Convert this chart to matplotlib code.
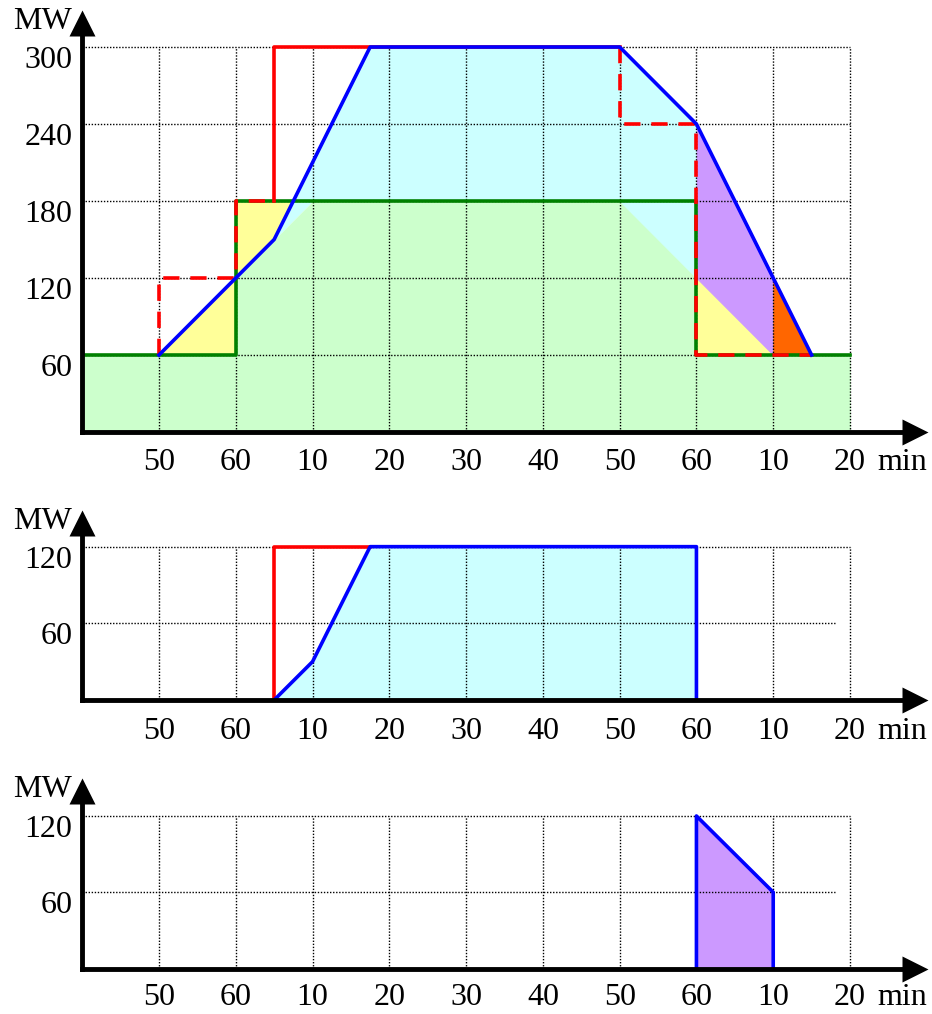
import numpy as np
import matplotlib
matplotlib.use("Agg")
import matplotlib.pyplot as plt
from matplotlib.path import Path
from matplotlib import transforms

# ---- data -----------------------------------------------------------------
# time in minutes; labels show the clock minute
tick_pos = [10, 20, 30, 40, 50, 60, 70, 80, 90, 100]
tick_labels = ["50", "60", "10", "20", "30", "40", "50", "60", "10", "20"]

# top panel: schedule (step), ramp-limited schedule, total output, dispatch order
sched_t = [0, 20, 20, 80, 80, 100]
sched_p = [60, 60, 180, 180, 60, 60]
ramp_t = [0, 10, 30, 70, 90, 100]
ramp_p = [60, 60, 180, 180, 60, 60]
total_t = [10, 25, 37.5, 70, 80, 90, 95]
total_p = [60, 150, 300, 300, 240, 120, 60]
order_t = [10, 10, 20, 20, 25, 25, 70, 70, 80, 80, 95]
order_p = [60, 120, 120, 180, 180, 300, 300, 240, 240, 60, 60]
yticks_top = [60, 120, 180, 240, 300]

# middle panel: upward regulation
up_t = [25, 30, 37.5, 80, 80]
up_p = [0, 30, 120, 120, 0]
up_order_t = [25, 25, 37.5]
up_order_p = [0, 120, 120]
yticks_small = [60, 120]

# bottom panel: downward regulation
down_t = [80, 80, 90, 90]
down_p = [0, 120, 60, 0]

# ---- style ----------------------------------------------------------------
GREEN_FILL = "#CCFFCC"
CYAN_FILL = "#CCFFFF"
YELLOW_FILL = "#FFFF99"
PURPLE_FILL = "#CC99FF"
ORANGE_FILL = "#FF6600"
GREEN = "#008000"
BLUE = "#0000FF"
RED = "#FF0000"

FONT = dict(family="Liberation Serif", size=23, color="black")
LW = 2.6
AXIS_LW = 3.5
DOT = dict(color="black", lw=1.0, linestyle=(0, (1, 1.2)), zorder=2)
DASH = (0, (4.5, 3))

W, H, DPI = 932, 1014, 100
PX_PER_MIN = 7.678
X0_PX = 82.2
XMAX = 110.5
X_TIP = 110.2
HEAD_PX = 26

HEAD_UP = Path([(0, 0), (-0.5, -1), (0.5, -1), (0, 0)],
               [Path.MOVETO, Path.LINETO, Path.LINETO, Path.CLOSEPOLY])
HEAD_RIGHT = Path([(0, 0), (-1, 0.5), (-1, -0.5), (0, 0)],
                  [Path.MOVETO, Path.LINETO, Path.LINETO, Path.CLOSEPOLY])

fig = plt.figure(figsize=(W / DPI, H / DPI), dpi=DPI)


def make_axes(y0_px, px_per_mw, ymax):
    ax = fig.add_axes([X0_PX / W, 1 - y0_px / H,
                       XMAX * PX_PER_MIN / W, ymax * px_per_mw / H])
    ax.set_xlim(0, XMAX)
    ax.set_ylim(0, ymax)
    ax.axis("off")
    return ax


def shifted(ax, dx, dy):
    return transforms.offset_copy(ax.transData, fig=fig, x=dx, y=dy, units="dots")


def draw_frame(ax, y_tip, px_per_mw, yticks, ytop, hgrid_end, label_drop):
    # dotted grid
    for t in tick_pos:
        ax.plot([t, t], [0, ytop], **DOT)
    for v, end in zip(yticks, hgrid_end):
        ax.plot([0, end], [v, v], **DOT)
    # arrows
    half = 0.5 * HEAD_PX
    ax.plot([0, 0], [0, y_tip - half / px_per_mw], color="black", lw=AXIS_LW,
            solid_capstyle="projecting", zorder=10, clip_on=False)
    ax.plot([0, X_TIP - half / PX_PER_MIN], [0, 0], color="black", lw=AXIS_LW,
            solid_capstyle="projecting", zorder=10, clip_on=False)
    ms = 2 * HEAD_PX * 72 / DPI
    ax.plot([0], [y_tip], marker=HEAD_UP, ms=ms, mew=0, color="black",
            zorder=11, clip_on=False)
    ax.plot([X_TIP], [0], marker=HEAD_RIGHT, ms=ms, mew=0, color="black",
            zorder=11, clip_on=False)
    # labels
    for t, lab in zip(tick_pos, tick_labels):
        ax.text(t, 0, lab, transform=shifted(ax, 0, -label_drop),
                ha="center", va="baseline", **FONT)
    ax.text(103.6, 0, "min", transform=shifted(ax, 0, -label_drop),
            ha="left", va="baseline", **FONT)
    for v in yticks:
        ax.text(0, v, str(v), transform=shifted(ax, -10, -21),
                ha="right", va="baseline", **FONT)
    ax.text(0, y_tip, "MW", transform=shifted(ax, -10, -19),
            ha="right", va="baseline", **FONT)


def ramp(x):
    return np.interp(x, ramp_t, ramp_p)


def total(x):
    return np.interp(x, total_t, total_p)


def level(v):
    return lambda x: np.full_like(x, v, dtype=float)


def band(ax, x0, x1, lo, hi, color):
    knots = np.unique(np.r_[x0, x1, ramp_t, total_t]).astype(float)
    xs = knots[(knots >= x0) & (knots <= x1)]
    ax.fill_between(xs, lo(xs), hi(xs), facecolor=color, edgecolor=color,
                    lw=0.5, zorder=1)


# ---- top panel ------------------------------------------------------------
y0, ppm = 432.0, 1.2833
tip = (y0 - 10) / ppm
ax1 = make_axes(y0, ppm, 332)
band(ax1, 0, 100, level(0), ramp, GREEN_FILL)
band(ax1, 10, 20, level(sched_p[0]), ramp, YELLOW_FILL)
band(ax1, 20, 30, ramp, level(sched_p[2]), YELLOW_FILL)
band(ax1, 80, 90, level(sched_p[4]), ramp, YELLOW_FILL)
band(ax1, 25, 80, ramp, total, CYAN_FILL)
band(ax1, 80, 90, ramp, total, PURPLE_FILL)
band(ax1, 90, 95, ramp, total, ORANGE_FILL)
draw_frame(ax1, tip, ppm, yticks_top, 300, [100] * 5, 38)
ax1.plot(sched_t, sched_p, color=GREEN, lw=LW, zorder=4)
ax1.plot(order_t[4:7], order_p[4:7], color=RED, lw=LW, zorder=5)
ax1.plot(order_t[:5], order_p[:5], color=RED, lw=LW, linestyle=DASH, zorder=5)
ax1.plot(order_t[6:], order_p[6:], color=RED, lw=LW, linestyle=DASH, zorder=5)
ax1.plot(total_t, total_p, color=BLUE, lw=LW, zorder=6)

# ---- middle panel ---------------------------------------------------------
y0, ppm = 700.0, 1.2778
tip = (y0 - 510) / ppm
ax2 = make_axes(y0, ppm, 152)
ax2.fill(up_t, up_p, facecolor=CYAN_FILL, edgecolor="none", zorder=1)
draw_frame(ax2, tip, ppm, yticks_small, 120, [98, 100], 39)
ax2.plot(up_order_t, up_order_p, color=RED, lw=LW, zorder=5)
ax2.plot(up_t, up_p, color=BLUE, lw=LW, zorder=6)

# ---- bottom panel ---------------------------------------------------------
y0, ppm = 968.5, 1.271
tip = (y0 - 778) / ppm
ax3 = make_axes(y0, ppm, 154)
ax3.fill(down_t, down_p, facecolor=PURPLE_FILL, edgecolor="none", zorder=1)
draw_frame(ax3, tip, ppm, yticks_small, 120, [98, 100], 36.5)
ax3.plot(down_t, down_p, color=BLUE, lw=LW, zorder=6)

fig.savefig("out.png", dpi=DPI)
